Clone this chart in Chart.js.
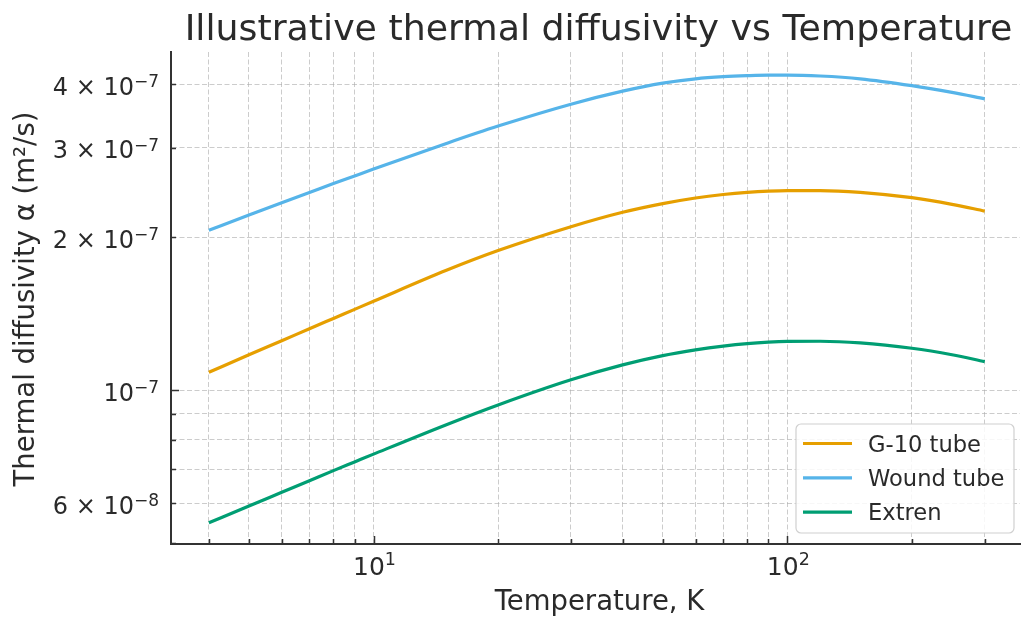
<!DOCTYPE html>
<html>
<head>
<meta charset="utf-8">
<script src="https://cdn.jsdelivr.net/npm/chart.js@4.4.1/dist/chart.umd.min.js"></script>
<style>
  html, body { margin: 0; padding: 0; background: #fff; }
  #wrap { width: 1022px; height: 618px; }
</style>
</head>
<body>
<div id="wrap"><canvas id="chart" width="1022" height="618"></canvas></div>
<script>
// Valores (escala log-log)
const temperature = [4, 5, 6, 7, 8, 9, 10, 15, 20, 30, 40, 50, 60, 70, 80, 90, 100, 120, 150, 200, 250, 300];
const g10Tube = [1.085e-7, 1.175e-7, 1.252e-7, 1.322e-7, 1.385e-7, 1.443e-7, 1.497e-7, 1.722e-7, 1.883e-7, 2.098e-7, 2.24e-7,
                 2.33e-7, 2.39e-7, 2.428e-7, 2.452e-7, 2.466e-7, 2.472e-7, 2.472e-7, 2.452e-7, 2.393e-7, 2.322e-7, 2.252e-7];
const woundTube = [2.065e-7, 2.212e-7, 2.339e-7, 2.45e-7, 2.551e-7, 2.641e-7, 2.724e-7, 3.06e-7, 3.31e-7, 3.655e-7, 3.877e-7,
                   4.02e-7, 4.10e-7, 4.14e-7, 4.16e-7, 4.17e-7, 4.17e-7, 4.153e-7, 4.101e-7, 3.975e-7, 3.855e-7, 3.745e-7];
const extren = [5.49e-8, 5.92e-8, 6.30e-8, 6.64e-8, 6.95e-8, 7.23e-8, 7.49e-8, 8.56e-8, 9.36e-8, 1.049e-7, 1.122e-7,
                1.170e-7, 1.201e-7, 1.222e-7, 1.236e-7, 1.244e-7, 1.248e-7, 1.249e-7, 1.240e-7, 1.210e-7, 1.175e-7, 1.139e-7];

const seriesLabels = ['G-10 tube', 'Wound tube', 'Extren'];
const seriesColors = ['#E69F00', '#56B4E9', '#009E73'];

// Ticks / grade
const xGridValues = [4, 5, 6, 7, 8, 9, 10, 20, 30, 40, 50, 60, 70, 80, 90, 100, 200, 300];
const xMajorValues = [10, 100];
const xLabelExps = ['1', '2'];
const yGridValues = [5e-8, 6e-8, 7e-8, 8e-8, 9e-8, 1e-7, 2e-7, 3e-7, 4e-7];
const yMajorValues = [1e-7];
const yLabelValues = [6e-8, 1e-7, 2e-7, 3e-7, 4e-7];
const yLabelMantissas = ['6', '', '2', '3', '4'];
const yLabelExps = ['\u22128', '\u22127', '\u22127', '\u22127', '\u22127'];

const titleText = 'Illustrative thermal diffusivity vs Temperature';
const xTitle = 'Temperature, K';
const yTitle = 'Thermal diffusivity \u03b1 (m\u00b2/s)';

const FONT = '"DejaVu Sans", sans-serif';
const TEXT = '#2a2a2a';
const AXIS = '#333333';

function drawParts(ctx, parts, x, y, align) {
    let total = 0;
    parts.forEach(p => {
        ctx.font = p.size + 'px ' + FONT;
        p.w = ctx.measureText(p.text).width;
        total += p.w;
    });
    let cx = align === 'right' ? x - total : (align === 'center' ? x - total / 2 : x);
    parts.forEach(p => {
        ctx.font = p.size + 'px ' + FONT;
        ctx.fillText(p.text, cx, y - (p.rise || 0));
        cx += p.w;
    });
}

const decor = {
    id: 'decor',
    afterDraw(chart) {
        const ctx = chart.ctx;
        const area = chart.chartArea;
        const xs = chart.scales.x, ys = chart.scales.y;
        ctx.save();
        ctx.fillStyle = TEXT;
        ctx.textAlign = 'left';
        ctx.textBaseline = 'alphabetic';

        // marcas dos ticks (para dentro)
        ctx.strokeStyle = AXIS;
        ctx.lineWidth = 1.5;
        ctx.beginPath();
        xGridValues.forEach(v => {
            const px = Math.round(xs.getPixelForValue(v)) + 0.5;
            const len = xMajorValues.includes(v) ? 8 : 5;
            ctx.moveTo(px, area.bottom);
            ctx.lineTo(px, area.bottom - len);
        });
        yGridValues.forEach(v => {
            const py = Math.round(ys.getPixelForValue(v)) + 0.5;
            const len = yMajorValues.includes(v) ? 8 : 5;
            ctx.moveTo(area.left, py);
            ctx.lineTo(area.left + len, py);
        });
        ctx.stroke();

        // rótulos do eixo x
        xMajorValues.forEach((v, i) => {
            const px = xs.getPixelForValue(v);
            drawParts(ctx, [
                { text: '10', size: 25 },
                { text: xLabelExps[i], size: 17.5, rise: 10.5 }
            ], px + 1, area.bottom + 31, 'center');
        });

        // rótulos do eixo y
        yLabelValues.forEach((v, i) => {
            const py = ys.getPixelForValue(v);
            const parts = [];
            if (yLabelMantissas[i]) parts.push({ text: yLabelMantissas[i] + ' \u00d7 ', size: 24 });
            parts.push({ text: '10', size: 24 });
            parts.push({ text: yLabelExps[i], size: 17, rise: 7.5 });
            drawParts(ctx, parts, area.left - 12, py + 10.5, 'right');
        });

        // títulos
        ctx.textAlign = 'center';
        ctx.font = '36.3px ' + FONT;
        ctx.fillText(titleText, (area.left + area.right) / 2 + 3, 40);
        ctx.font = '27.5px ' + FONT;
        ctx.fillText(xTitle, (area.left + area.right) / 2 + 4, 610);
        ctx.save();
        ctx.translate(34, (area.top + area.bottom) / 2 + 1);
        ctx.rotate(-Math.PI / 2);
        ctx.fillText(yTitle, 0, 0);
        ctx.restore();

        // legenda
        const bx = area.right - 224, by = area.bottom - 120, bw = 218, bh = 109, r = 5;
        ctx.beginPath();
        ctx.moveTo(bx + r, by);
        ctx.arcTo(bx + bw, by, bx + bw, by + bh, r);
        ctx.arcTo(bx + bw, by + bh, bx, by + bh, r);
        ctx.arcTo(bx, by + bh, bx, by, r);
        ctx.arcTo(bx, by, bx + bw, by, r);
        ctx.closePath();
        ctx.fillStyle = 'rgba(255,255,255,0.85)';
        ctx.fill();
        ctx.strokeStyle = '#d0d0d0';
        ctx.lineWidth = 1.2;
        ctx.stroke();
        ctx.textAlign = 'left';
        ctx.font = '22.6px ' + FONT;
        chart.data.datasets.forEach((ds, i) => {
            const ly = by + 19.5 + i * 34.3;
            ctx.strokeStyle = ds.borderColor;
            ctx.lineWidth = 3.2;
            ctx.beginPath();
            ctx.moveTo(bx + 7, ly);
            ctx.lineTo(bx + 56, ly);
            ctx.stroke();
            ctx.fillStyle = TEXT;
            ctx.fillText(ds.label, bx + 72, ly + 8);
        });
        ctx.restore();
    }
};

function toPoints(values) {
    return temperature.map((t, i) => ({ x: t, y: values[i] }));
}

const gridOpts = { color: 'rgba(170,170,170,0.6)', lineWidth: 1, drawTicks: false };
const borderOpts = { display: true, color: AXIS, width: 2, dash: [5, 2.5] };

const ctx = document.getElementById('chart').getContext('2d');
const chart = new Chart(ctx, {
    type: 'line',
    data: {
        datasets: [g10Tube, woundTube, extren].map((vals, i) => ({
            label: seriesLabels[i],
            data: toPoints(vals),
            borderColor: seriesColors[i],
            backgroundColor: seriesColors[i],
            borderWidth: 3.2,
            pointRadius: 0,
            cubicInterpolationMode: 'monotone',
            fill: false
        }))
    },
    options: {
        responsive: false,
        animation: false,
        devicePixelRatio: 1,
        layout: { padding: { left: 171, right: 2, top: 52, bottom: 74 } },
        scales: {
            x: {
                type: 'logarithmic', min: 3.24, max: 365, bounds: 'data',
                ticks: { display: false, autoSkip: false },
                grid: gridOpts, border: borderOpts,
                afterBuildTicks: s => { s.ticks = xGridValues.map(v => ({ value: v })); }
            },
            y: {
                type: 'logarithmic', min: 4.985e-8, max: 4.63e-7, bounds: 'data',
                ticks: { display: false, autoSkip: false },
                grid: gridOpts, border: borderOpts,
                afterBuildTicks: s => { s.ticks = yGridValues.map(v => ({ value: v })); }
            }
        },
        plugins: {
            legend: { display: false },
            tooltip: { enabled: false },
            title: { display: false }
        }
    },
    plugins: [decor]
});
</script>
</body>
</html>
